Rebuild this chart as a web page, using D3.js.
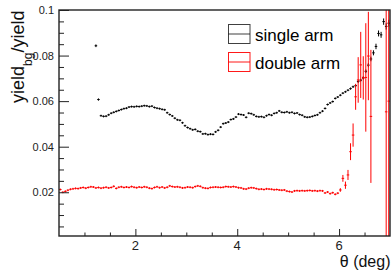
<!DOCTYPE html>
<html><head><meta charset="utf-8">
<script src="https://cdn.jsdelivr.net/npm/d3@7"></script>
<style>body{margin:0;background:#fff}svg{display:block;font-family:"Liberation Sans",Arial,sans-serif}</style>
</head><body><svg id="c" width="391" height="270"></svg>
<script>
// bins of width 0.05 deg, centres 0.525 ... 6.975
const binStart = 0.5, binWidth = 0.05;
const singleStartBin = 14;
const singleArm = [0.0843,0.0607,0.0536,0.0533,0.0534,0.0540,0.0547,0.0551,0.0555,0.0559,0.0563,0.0567,0.0569,0.0574,0.0576,0.0575,0.0577,0.0576,0.0578,0.0580,0.0579,0.0576,0.0578,0.0572,0.0569,0.0567,0.0564,0.0562,0.0549,0.0541,0.0535,0.0525,0.0518,0.0516,0.0505,0.0492,0.0484,0.0479,0.0474,0.0476,0.0468,0.0466,0.0456,0.0457,0.0453,0.0455,0.0454,0.0465,0.0472,0.0486,0.0501,0.0504,0.0508,0.0519,0.0522,0.0530,0.0543,0.0541,0.0539,0.0529,0.0547,0.0545,0.0540,0.0533,0.0531,0.0532,0.0529,0.0536,0.0541,0.0538,0.0546,0.0549,0.0557,0.0551,0.0550,0.0553,0.0549,0.0551,0.0546,0.0548,0.0541,0.0538,0.0531,0.0529,0.0530,0.0533,0.0537,0.0540,0.0549,0.0556,0.0568,0.0585,0.0592,0.0598,0.0612,0.0618,0.0626,0.0635,0.0641,0.0648,0.0655,0.0663,0.0668,0.0686,0.0692,0.0702,0.0731,0.0758,0.0785,0.0812,0.0840,0.0897,0.0891,0.0949,0.0928,0.0942];
const singleErr = [0.0006,0.0005,0.0003,0.0003,0.0003,0.0003,0.0003,0.0003,0.0003,0.0003,0.0003,0.0003,0.0003,0.0003,0.0003,0.0003,0.0003,0.0003,0.0003,0.0003,0.0003,0.0003,0.0003,0.0003,0.0003,0.0003,0.0003,0.0003,0.0003,0.0003,0.0003,0.0003,0.0003,0.0003,0.0003,0.0003,0.0003,0.0003,0.0003,0.0003,0.0003,0.0003,0.0003,0.0003,0.0003,0.0003,0.0003,0.0003,0.0003,0.0003,0.0003,0.0003,0.0003,0.0003,0.0003,0.0003,0.0003,0.0003,0.0003,0.0003,0.0003,0.0003,0.0003,0.0003,0.0003,0.0003,0.0003,0.0003,0.0003,0.0003,0.0003,0.0003,0.0003,0.0003,0.0003,0.0003,0.0003,0.0003,0.0003,0.0003,0.0003,0.0003,0.0003,0.0003,0.0003,0.0003,0.0003,0.0003,0.0003,0.0003,0.0003,0.0003,0.0003,0.0003,0.0004,0.0004,0.0004,0.0004,0.0004,0.0004,0.0005,0.0005,0.0005,0.0006,0.0006,0.0007,0.0008,0.0009,0.0010,0.0011,0.0012,0.0013,0.0013,0.0014,0.0014,0.0015];
const doubleArm = [0.0212,0.0200,0.0204,0.0209,0.0213,0.0215,0.0217,0.0216,0.0219,0.0221,0.0218,0.0221,0.0224,0.0223,0.0219,0.0221,0.0218,0.0220,0.0222,0.0219,0.0221,0.0226,0.0217,0.0222,0.0224,0.0221,0.0223,0.0221,0.0225,0.0222,0.0220,0.0223,0.0221,0.0224,0.0222,0.0218,0.0216,0.0221,0.0224,0.0220,0.0223,0.0219,0.0222,0.0228,0.0225,0.0223,0.0224,0.0222,0.0219,0.0220,0.0223,0.0222,0.0220,0.0225,0.0228,0.0226,0.0220,0.0218,0.0217,0.0221,0.0222,0.0223,0.0222,0.0221,0.0222,0.0225,0.0224,0.0223,0.0225,0.0223,0.0220,0.0219,0.0215,0.0214,0.0218,0.0220,0.0219,0.0216,0.0213,0.0214,0.0212,0.0215,0.0214,0.0213,0.0211,0.0212,0.0210,0.0209,0.0210,0.0205,0.0203,0.0201,0.0206,0.0207,0.0206,0.0207,0.0206,0.0207,0.0208,0.0206,0.0207,0.0205,0.0207,0.0206,0.0197,0.0201,0.0194,0.0198,0.0191,0.0196,0.0210,0.0261,0.0231,0.0276,0.0378,0.0451,0.0619,0.0693,0.0759,0.0702,0.0704,0.0798,0.0533,null,null,null,null,null,0.0553,0.0600];
const doubleErr = [0.0003,0.0003,0.0003,0.0003,0.0003,0.0003,0.0003,0.0003,0.0003,0.0003,0.0003,0.0003,0.0003,0.0003,0.0003,0.0003,0.0003,0.0003,0.0003,0.0003,0.0003,0.0003,0.0003,0.0003,0.0003,0.0003,0.0003,0.0003,0.0003,0.0003,0.0003,0.0003,0.0003,0.0003,0.0003,0.0003,0.0003,0.0003,0.0003,0.0003,0.0003,0.0003,0.0003,0.0003,0.0003,0.0003,0.0003,0.0003,0.0003,0.0003,0.0003,0.0003,0.0003,0.0003,0.0003,0.0003,0.0003,0.0003,0.0003,0.0003,0.0003,0.0003,0.0003,0.0003,0.0003,0.0003,0.0003,0.0003,0.0003,0.0003,0.0003,0.0003,0.0003,0.0003,0.0003,0.0003,0.0003,0.0003,0.0003,0.0003,0.0003,0.0003,0.0003,0.0003,0.0003,0.0003,0.0003,0.0003,0.0003,0.0003,0.0003,0.0003,0.0003,0.0003,0.0003,0.0003,0.0003,0.0003,0.0003,0.0003,0.0003,0.0003,0.0003,0.0003,0.0004,0.0004,0.0004,0.0004,0.0004,0.0004,0.0008,0.0015,0.0016,0.0022,0.0037,0.0051,0.0057,0.0100,0.0145,0.0095,0.0238,0.0194,0.0292,0,0,0,0,0,0.1,0.1];
const xMajorTicks = [2,4,6];
const xMinorTicks = [1,1.5,2.5,3,3.5,4.5,5,5.5,6.5];
const yMajorTicks = [0.02,0.04,0.06,0.08,0.1];
const yTickLabels = ["0.02","0.04","0.06","0.08","0.1"];
const yMinorTicks = [0.005,0.01,0.015,0.025,0.03,0.035,0.045,0.05,0.055,0.065,0.07,0.075,0.085,0.09,0.095];
const legendLabels = ["single arm","double arm"];
const seriesColors = ["#000000","#ff0000"];

const svg = d3.select("#c");
const L=59, R=390, T=10, B=236;
const x = d3.scaleLinear().domain([0.5,7.0]).range([L,R]);
const y = d3.scaleLinear().domain([0.0008,0.1]).range([B,T]);

svg.append("clipPath").attr("id","clip").append("rect").attr("x",L).attr("y",T).attr("width",R-L).attr("height",B-T);

function series(vals, errs, startBin, color){
  const pts = vals.map((v,i)=>({v, e:errs[i], c: binStart + binWidth*(startBin+i+0.5)})).filter(d=>d.v!==null);
  const g = svg.append("g").attr("clip-path","url(#clip)").attr("stroke",color).attr("fill",color);
  g.selectAll("line.h").data(pts).join("line").attr("class","h")
    .attr("x1",d=>x(d.c-binWidth/2)).attr("x2",d=>x(d.c+binWidth/2))
    .attr("y1",d=>y(d.v)).attr("y2",d=>y(d.v)).attr("stroke-width",1);
  g.selectAll("line.v").data(pts).join("line").attr("class","v")
    .attr("x1",d=>x(d.c)).attr("x2",d=>x(d.c))
    .attr("y1",d=>Math.max(y(d.v-d.e), y(d.v)+1)).attr("y2",d=>Math.min(y(d.v+d.e), y(d.v)-1)).attr("stroke-width",1);
}
series(singleArm, singleErr, singleStartBin, seriesColors[0]);
series(doubleArm, doubleErr, 0, seriesColors[1]);

// frame
svg.append("rect").attr("x",L).attr("y",T).attr("width",R-L).attr("height",B-T)
  .attr("fill","none").attr("stroke","#222").attr("stroke-width",1.4);

// x axis ticks (inside, pointing up)
const xa = svg.append("g").attr("transform",`translate(0,${B})`);
xa.call(d3.axisTop(x).tickValues(xMajorTicks).tickSize(7).tickFormat(""));
xa.append("g").call(d3.axisTop(x).tickValues(xMinorTicks).tickSize(3.5).tickFormat(""));
xa.selectAll(".domain").remove();
xa.selectAll("line").attr("stroke","#222");
svg.append("g").selectAll("text").data(xMajorTicks).join("text")
  .attr("x",d=>x(d)).attr("y",249.5).attr("text-anchor","middle").attr("font-size",13).attr("fill","#222").text(d=>d);

// y axis ticks (inside, pointing right)
const ya = svg.append("g").attr("transform",`translate(${L},0)`);
ya.call(d3.axisRight(y).tickValues(yMajorTicks).tickSize(10).tickFormat(""));
ya.append("g").call(d3.axisRight(y).tickValues(yMinorTicks).tickSize(5).tickFormat(""));
ya.selectAll(".domain").remove();
ya.selectAll("line").attr("stroke","#222");
svg.append("g").selectAll("text").data(yMajorTicks).join("text")
  .attr("x",54).attr("y",d=>y(d)+4).attr("text-anchor","end").attr("font-size",11).attr("fill","#222")
  .text((d,i)=>yTickLabels[i]);

// axis titles
svg.append("text").attr("x",390.5).attr("y",266.5).attr("text-anchor","end").attr("font-size",16).attr("fill","#111").text("θ (deg)");
const yt = svg.append("text").attr("transform","translate(24,103) rotate(-90)").attr("font-size",18).attr("fill","#111");
yt.append("tspan").text("yield");
yt.append("tspan").attr("dy",8).attr("font-size",12).text("bg");
yt.append("tspan").attr("dy",-8).text("/yield");

// legend
const lg = svg.append("g");
legendLabels.forEach((lab,i)=>{
  const top = 24.5 + i*28;
  lg.append("rect").attr("x",228.5).attr("y",top).attr("width",21.5).attr("height",19)
    .attr("fill","none").attr("stroke",seriesColors[i]).attr("stroke-width",1).attr("opacity",i?0.9:0.75);
  lg.append("line").attr("x1",228.5).attr("x2",250).attr("y1",top+9.5).attr("y2",top+9.5)
    .attr("stroke",seriesColors[i]).attr("stroke-width",1).attr("opacity",i?0.9:0.75);
  lg.append("text").attr("x",255).attr("y",top+16.5).attr("font-size",17).attr("fill","#000").text(lab);
});
</script></body></html>
